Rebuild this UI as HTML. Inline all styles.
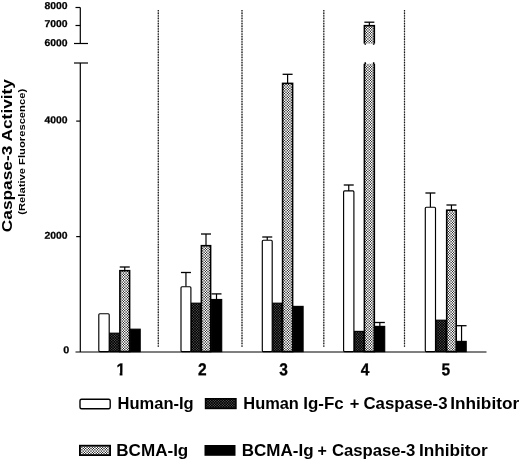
<!DOCTYPE html>
<html><head><meta charset="utf-8"><style>
html,body{margin:0;padding:0;background:#fff}
svg{display:block}
text{font-family:"Liberation Sans",sans-serif;fill:#000}
</style></head><body>
<svg width="520" height="461" viewBox="0 0 520 461">
<defs>
<pattern id="pg" width="13" height="13" patternUnits="userSpaceOnUse" shape-rendering="crispEdges"><rect x="0" y="0" width="1.02" height="1.02" fill="#bcbcbc"/><rect x="1" y="0" width="1.02" height="1.02" fill="#7a7a7a"/><rect x="2" y="0" width="1.02" height="1.02" fill="#dddddd"/><rect x="3" y="0" width="1.02" height="1.02" fill="#8b8b8b"/><rect x="4" y="0" width="1.02" height="1.02" fill="#a3a3a3"/><rect x="5" y="0" width="1.02" height="1.02" fill="#d1d1d1"/><rect x="6" y="0" width="1.02" height="1.02" fill="#747474"/><rect x="7" y="0" width="1.02" height="1.02" fill="#d1d1d1"/><rect x="8" y="0" width="1.02" height="1.02" fill="#a3a3a3"/><rect x="9" y="0" width="1.02" height="1.02" fill="#8b8b8b"/><rect x="10" y="0" width="1.02" height="1.02" fill="#dddddd"/><rect x="11" y="0" width="1.02" height="1.02" fill="#7a7a7a"/><rect x="12" y="0" width="1.02" height="1.02" fill="#bcbcbc"/><rect x="0" y="1" width="1.02" height="1.02" fill="#7a7a7a"/><rect x="1" y="1" width="1.02" height="1.02" fill="#ffffff"/><rect x="2" y="1" width="1.02" height="1.02" fill="#292929"/><rect x="3" y="1" width="1.02" height="1.02" fill="#f5f5f5"/><rect x="4" y="1" width="1.02" height="1.02" fill="#bababa"/><rect x="5" y="1" width="1.02" height="1.02" fill="#464646"/><rect x="6" y="1" width="1.02" height="1.02" fill="#ffffff"/><rect x="7" y="1" width="1.02" height="1.02" fill="#464646"/><rect x="8" y="1" width="1.02" height="1.02" fill="#bababa"/><rect x="9" y="1" width="1.02" height="1.02" fill="#f5f5f5"/><rect x="10" y="1" width="1.02" height="1.02" fill="#292929"/><rect x="11" y="1" width="1.02" height="1.02" fill="#ffffff"/><rect x="12" y="1" width="1.02" height="1.02" fill="#7a7a7a"/><rect x="0" y="2" width="1.02" height="1.02" fill="#dddddd"/><rect x="1" y="2" width="1.02" height="1.02" fill="#292929"/><rect x="2" y="2" width="1.02" height="1.02" fill="#ffffff"/><rect x="3" y="2" width="1.02" height="1.02" fill="#575757"/><rect x="4" y="2" width="1.02" height="1.02" fill="#989898"/><rect x="5" y="2" width="1.02" height="1.02" fill="#ffffff"/><rect x="6" y="2" width="1.02" height="1.02" fill="#181818"/><rect x="7" y="2" width="1.02" height="1.02" fill="#ffffff"/><rect x="8" y="2" width="1.02" height="1.02" fill="#989898"/><rect x="9" y="2" width="1.02" height="1.02" fill="#575757"/><rect x="10" y="2" width="1.02" height="1.02" fill="#ffffff"/><rect x="11" y="2" width="1.02" height="1.02" fill="#292929"/><rect x="12" y="2" width="1.02" height="1.02" fill="#dddddd"/><rect x="0" y="3" width="1.02" height="1.02" fill="#8b8b8b"/><rect x="1" y="3" width="1.02" height="1.02" fill="#f5f5f5"/><rect x="2" y="3" width="1.02" height="1.02" fill="#575757"/><rect x="3" y="3" width="1.02" height="1.02" fill="#dadada"/><rect x="4" y="3" width="1.02" height="1.02" fill="#b4b4b4"/><rect x="5" y="3" width="1.02" height="1.02" fill="#6a6a6a"/><rect x="6" y="3" width="1.02" height="1.02" fill="#ffffff"/><rect x="7" y="3" width="1.02" height="1.02" fill="#6a6a6a"/><rect x="8" y="3" width="1.02" height="1.02" fill="#b4b4b4"/><rect x="9" y="3" width="1.02" height="1.02" fill="#dadada"/><rect x="10" y="3" width="1.02" height="1.02" fill="#575757"/><rect x="11" y="3" width="1.02" height="1.02" fill="#f5f5f5"/><rect x="12" y="3" width="1.02" height="1.02" fill="#8b8b8b"/><rect x="0" y="4" width="1.02" height="1.02" fill="#a3a3a3"/><rect x="1" y="4" width="1.02" height="1.02" fill="#bababa"/><rect x="2" y="4" width="1.02" height="1.02" fill="#989898"/><rect x="3" y="4" width="1.02" height="1.02" fill="#b4b4b4"/><rect x="4" y="4" width="1.02" height="1.02" fill="#acacac"/><rect x="5" y="4" width="1.02" height="1.02" fill="#9c9c9c"/><rect x="6" y="4" width="1.02" height="1.02" fill="#bcbcbc"/><rect x="7" y="4" width="1.02" height="1.02" fill="#9c9c9c"/><rect x="8" y="4" width="1.02" height="1.02" fill="#acacac"/><rect x="9" y="4" width="1.02" height="1.02" fill="#b4b4b4"/><rect x="10" y="4" width="1.02" height="1.02" fill="#989898"/><rect x="11" y="4" width="1.02" height="1.02" fill="#bababa"/><rect x="12" y="4" width="1.02" height="1.02" fill="#a3a3a3"/><rect x="0" y="5" width="1.02" height="1.02" fill="#d1d1d1"/><rect x="1" y="5" width="1.02" height="1.02" fill="#464646"/><rect x="2" y="5" width="1.02" height="1.02" fill="#ffffff"/><rect x="3" y="5" width="1.02" height="1.02" fill="#6a6a6a"/><rect x="4" y="5" width="1.02" height="1.02" fill="#9c9c9c"/><rect x="5" y="5" width="1.02" height="1.02" fill="#fefefe"/><rect x="6" y="5" width="1.02" height="1.02" fill="#393939"/><rect x="7" y="5" width="1.02" height="1.02" fill="#fefefe"/><rect x="8" y="5" width="1.02" height="1.02" fill="#9c9c9c"/><rect x="9" y="5" width="1.02" height="1.02" fill="#6a6a6a"/><rect x="10" y="5" width="1.02" height="1.02" fill="#ffffff"/><rect x="11" y="5" width="1.02" height="1.02" fill="#464646"/><rect x="12" y="5" width="1.02" height="1.02" fill="#d1d1d1"/><rect x="0" y="6" width="1.02" height="1.02" fill="#747474"/><rect x="1" y="6" width="1.02" height="1.02" fill="#ffffff"/><rect x="2" y="6" width="1.02" height="1.02" fill="#181818"/><rect x="3" y="6" width="1.02" height="1.02" fill="#ffffff"/><rect x="4" y="6" width="1.02" height="1.02" fill="#bcbcbc"/><rect x="5" y="6" width="1.02" height="1.02" fill="#393939"/><rect x="6" y="6" width="1.02" height="1.02" fill="#ffffff"/><rect x="7" y="6" width="1.02" height="1.02" fill="#393939"/><rect x="8" y="6" width="1.02" height="1.02" fill="#bcbcbc"/><rect x="9" y="6" width="1.02" height="1.02" fill="#ffffff"/><rect x="10" y="6" width="1.02" height="1.02" fill="#181818"/><rect x="11" y="6" width="1.02" height="1.02" fill="#ffffff"/><rect x="12" y="6" width="1.02" height="1.02" fill="#747474"/><rect x="0" y="7" width="1.02" height="1.02" fill="#d1d1d1"/><rect x="1" y="7" width="1.02" height="1.02" fill="#464646"/><rect x="2" y="7" width="1.02" height="1.02" fill="#ffffff"/><rect x="3" y="7" width="1.02" height="1.02" fill="#6a6a6a"/><rect x="4" y="7" width="1.02" height="1.02" fill="#9c9c9c"/><rect x="5" y="7" width="1.02" height="1.02" fill="#fefefe"/><rect x="6" y="7" width="1.02" height="1.02" fill="#393939"/><rect x="7" y="7" width="1.02" height="1.02" fill="#fefefe"/><rect x="8" y="7" width="1.02" height="1.02" fill="#9c9c9c"/><rect x="9" y="7" width="1.02" height="1.02" fill="#6a6a6a"/><rect x="10" y="7" width="1.02" height="1.02" fill="#ffffff"/><rect x="11" y="7" width="1.02" height="1.02" fill="#464646"/><rect x="12" y="7" width="1.02" height="1.02" fill="#d1d1d1"/><rect x="0" y="8" width="1.02" height="1.02" fill="#a3a3a3"/><rect x="1" y="8" width="1.02" height="1.02" fill="#bababa"/><rect x="2" y="8" width="1.02" height="1.02" fill="#989898"/><rect x="3" y="8" width="1.02" height="1.02" fill="#b4b4b4"/><rect x="4" y="8" width="1.02" height="1.02" fill="#acacac"/><rect x="5" y="8" width="1.02" height="1.02" fill="#9c9c9c"/><rect x="6" y="8" width="1.02" height="1.02" fill="#bcbcbc"/><rect x="7" y="8" width="1.02" height="1.02" fill="#9c9c9c"/><rect x="8" y="8" width="1.02" height="1.02" fill="#acacac"/><rect x="9" y="8" width="1.02" height="1.02" fill="#b4b4b4"/><rect x="10" y="8" width="1.02" height="1.02" fill="#989898"/><rect x="11" y="8" width="1.02" height="1.02" fill="#bababa"/><rect x="12" y="8" width="1.02" height="1.02" fill="#a3a3a3"/><rect x="0" y="9" width="1.02" height="1.02" fill="#8b8b8b"/><rect x="1" y="9" width="1.02" height="1.02" fill="#f5f5f5"/><rect x="2" y="9" width="1.02" height="1.02" fill="#575757"/><rect x="3" y="9" width="1.02" height="1.02" fill="#dadada"/><rect x="4" y="9" width="1.02" height="1.02" fill="#b4b4b4"/><rect x="5" y="9" width="1.02" height="1.02" fill="#6a6a6a"/><rect x="6" y="9" width="1.02" height="1.02" fill="#ffffff"/><rect x="7" y="9" width="1.02" height="1.02" fill="#6a6a6a"/><rect x="8" y="9" width="1.02" height="1.02" fill="#b4b4b4"/><rect x="9" y="9" width="1.02" height="1.02" fill="#dadada"/><rect x="10" y="9" width="1.02" height="1.02" fill="#575757"/><rect x="11" y="9" width="1.02" height="1.02" fill="#f5f5f5"/><rect x="12" y="9" width="1.02" height="1.02" fill="#8b8b8b"/><rect x="0" y="10" width="1.02" height="1.02" fill="#dddddd"/><rect x="1" y="10" width="1.02" height="1.02" fill="#292929"/><rect x="2" y="10" width="1.02" height="1.02" fill="#ffffff"/><rect x="3" y="10" width="1.02" height="1.02" fill="#575757"/><rect x="4" y="10" width="1.02" height="1.02" fill="#989898"/><rect x="5" y="10" width="1.02" height="1.02" fill="#ffffff"/><rect x="6" y="10" width="1.02" height="1.02" fill="#181818"/><rect x="7" y="10" width="1.02" height="1.02" fill="#ffffff"/><rect x="8" y="10" width="1.02" height="1.02" fill="#989898"/><rect x="9" y="10" width="1.02" height="1.02" fill="#575757"/><rect x="10" y="10" width="1.02" height="1.02" fill="#ffffff"/><rect x="11" y="10" width="1.02" height="1.02" fill="#292929"/><rect x="12" y="10" width="1.02" height="1.02" fill="#dddddd"/><rect x="0" y="11" width="1.02" height="1.02" fill="#7a7a7a"/><rect x="1" y="11" width="1.02" height="1.02" fill="#ffffff"/><rect x="2" y="11" width="1.02" height="1.02" fill="#292929"/><rect x="3" y="11" width="1.02" height="1.02" fill="#f5f5f5"/><rect x="4" y="11" width="1.02" height="1.02" fill="#bababa"/><rect x="5" y="11" width="1.02" height="1.02" fill="#464646"/><rect x="6" y="11" width="1.02" height="1.02" fill="#ffffff"/><rect x="7" y="11" width="1.02" height="1.02" fill="#464646"/><rect x="8" y="11" width="1.02" height="1.02" fill="#bababa"/><rect x="9" y="11" width="1.02" height="1.02" fill="#f5f5f5"/><rect x="10" y="11" width="1.02" height="1.02" fill="#292929"/><rect x="11" y="11" width="1.02" height="1.02" fill="#ffffff"/><rect x="12" y="11" width="1.02" height="1.02" fill="#7a7a7a"/><rect x="0" y="12" width="1.02" height="1.02" fill="#bcbcbc"/><rect x="1" y="12" width="1.02" height="1.02" fill="#7a7a7a"/><rect x="2" y="12" width="1.02" height="1.02" fill="#dddddd"/><rect x="3" y="12" width="1.02" height="1.02" fill="#8b8b8b"/><rect x="4" y="12" width="1.02" height="1.02" fill="#a3a3a3"/><rect x="5" y="12" width="1.02" height="1.02" fill="#d1d1d1"/><rect x="6" y="12" width="1.02" height="1.02" fill="#747474"/><rect x="7" y="12" width="1.02" height="1.02" fill="#d1d1d1"/><rect x="8" y="12" width="1.02" height="1.02" fill="#a3a3a3"/><rect x="9" y="12" width="1.02" height="1.02" fill="#8b8b8b"/><rect x="10" y="12" width="1.02" height="1.02" fill="#dddddd"/><rect x="11" y="12" width="1.02" height="1.02" fill="#7a7a7a"/><rect x="12" y="12" width="1.02" height="1.02" fill="#bcbcbc"/></pattern>
<pattern id="pd" width="13" height="13" patternUnits="userSpaceOnUse" shape-rendering="crispEdges"><rect x="0" y="0" width="1.02" height="1.02" fill="#222222"/><rect x="1" y="0" width="1.02" height="1.02" fill="#0a0a0a"/><rect x="2" y="0" width="1.02" height="1.02" fill="#2e2e2e"/><rect x="3" y="0" width="1.02" height="1.02" fill="#101010"/><rect x="4" y="0" width="1.02" height="1.02" fill="#191919"/><rect x="5" y="0" width="1.02" height="1.02" fill="#2a2a2a"/><rect x="6" y="0" width="1.02" height="1.02" fill="#080808"/><rect x="7" y="0" width="1.02" height="1.02" fill="#2a2a2a"/><rect x="8" y="0" width="1.02" height="1.02" fill="#191919"/><rect x="9" y="0" width="1.02" height="1.02" fill="#101010"/><rect x="10" y="0" width="1.02" height="1.02" fill="#2e2e2e"/><rect x="11" y="0" width="1.02" height="1.02" fill="#0a0a0a"/><rect x="12" y="0" width="1.02" height="1.02" fill="#222222"/><rect x="0" y="1" width="1.02" height="1.02" fill="#0a0a0a"/><rect x="1" y="1" width="1.02" height="1.02" fill="#474747"/><rect x="2" y="1" width="1.02" height="1.02" fill="#000000"/><rect x="3" y="1" width="1.02" height="1.02" fill="#373737"/><rect x="4" y="1" width="1.02" height="1.02" fill="#212121"/><rect x="5" y="1" width="1.02" height="1.02" fill="#000000"/><rect x="6" y="1" width="1.02" height="1.02" fill="#4c4c4c"/><rect x="7" y="1" width="1.02" height="1.02" fill="#000000"/><rect x="8" y="1" width="1.02" height="1.02" fill="#212121"/><rect x="9" y="1" width="1.02" height="1.02" fill="#373737"/><rect x="10" y="1" width="1.02" height="1.02" fill="#000000"/><rect x="11" y="1" width="1.02" height="1.02" fill="#474747"/><rect x="12" y="1" width="1.02" height="1.02" fill="#0a0a0a"/><rect x="0" y="2" width="1.02" height="1.02" fill="#2e2e2e"/><rect x="1" y="2" width="1.02" height="1.02" fill="#000000"/><rect x="2" y="2" width="1.02" height="1.02" fill="#4f4f4f"/><rect x="3" y="2" width="1.02" height="1.02" fill="#000000"/><rect x="4" y="2" width="1.02" height="1.02" fill="#151515"/><rect x="5" y="2" width="1.02" height="1.02" fill="#434343"/><rect x="6" y="2" width="1.02" height="1.02" fill="#000000"/><rect x="7" y="2" width="1.02" height="1.02" fill="#434343"/><rect x="8" y="2" width="1.02" height="1.02" fill="#151515"/><rect x="9" y="2" width="1.02" height="1.02" fill="#000000"/><rect x="10" y="2" width="1.02" height="1.02" fill="#4f4f4f"/><rect x="11" y="2" width="1.02" height="1.02" fill="#000000"/><rect x="12" y="2" width="1.02" height="1.02" fill="#2e2e2e"/><rect x="0" y="3" width="1.02" height="1.02" fill="#101010"/><rect x="1" y="3" width="1.02" height="1.02" fill="#373737"/><rect x="2" y="3" width="1.02" height="1.02" fill="#000000"/><rect x="3" y="3" width="1.02" height="1.02" fill="#2d2d2d"/><rect x="4" y="3" width="1.02" height="1.02" fill="#1f1f1f"/><rect x="5" y="3" width="1.02" height="1.02" fill="#040404"/><rect x="6" y="3" width="1.02" height="1.02" fill="#3b3b3b"/><rect x="7" y="3" width="1.02" height="1.02" fill="#040404"/><rect x="8" y="3" width="1.02" height="1.02" fill="#1f1f1f"/><rect x="9" y="3" width="1.02" height="1.02" fill="#2d2d2d"/><rect x="10" y="3" width="1.02" height="1.02" fill="#000000"/><rect x="11" y="3" width="1.02" height="1.02" fill="#373737"/><rect x="12" y="3" width="1.02" height="1.02" fill="#101010"/><rect x="0" y="4" width="1.02" height="1.02" fill="#191919"/><rect x="1" y="4" width="1.02" height="1.02" fill="#212121"/><rect x="2" y="4" width="1.02" height="1.02" fill="#151515"/><rect x="3" y="4" width="1.02" height="1.02" fill="#1f1f1f"/><rect x="4" y="4" width="1.02" height="1.02" fill="#1c1c1c"/><rect x="5" y="4" width="1.02" height="1.02" fill="#171717"/><rect x="6" y="4" width="1.02" height="1.02" fill="#222222"/><rect x="7" y="4" width="1.02" height="1.02" fill="#171717"/><rect x="8" y="4" width="1.02" height="1.02" fill="#1c1c1c"/><rect x="9" y="4" width="1.02" height="1.02" fill="#1f1f1f"/><rect x="10" y="4" width="1.02" height="1.02" fill="#151515"/><rect x="11" y="4" width="1.02" height="1.02" fill="#212121"/><rect x="12" y="4" width="1.02" height="1.02" fill="#191919"/><rect x="0" y="5" width="1.02" height="1.02" fill="#2a2a2a"/><rect x="1" y="5" width="1.02" height="1.02" fill="#000000"/><rect x="2" y="5" width="1.02" height="1.02" fill="#434343"/><rect x="3" y="5" width="1.02" height="1.02" fill="#040404"/><rect x="4" y="5" width="1.02" height="1.02" fill="#171717"/><rect x="5" y="5" width="1.02" height="1.02" fill="#3a3a3a"/><rect x="6" y="5" width="1.02" height="1.02" fill="#000000"/><rect x="7" y="5" width="1.02" height="1.02" fill="#3a3a3a"/><rect x="8" y="5" width="1.02" height="1.02" fill="#171717"/><rect x="9" y="5" width="1.02" height="1.02" fill="#040404"/><rect x="10" y="5" width="1.02" height="1.02" fill="#434343"/><rect x="11" y="5" width="1.02" height="1.02" fill="#000000"/><rect x="12" y="5" width="1.02" height="1.02" fill="#2a2a2a"/><rect x="0" y="6" width="1.02" height="1.02" fill="#080808"/><rect x="1" y="6" width="1.02" height="1.02" fill="#4c4c4c"/><rect x="2" y="6" width="1.02" height="1.02" fill="#000000"/><rect x="3" y="6" width="1.02" height="1.02" fill="#3b3b3b"/><rect x="4" y="6" width="1.02" height="1.02" fill="#222222"/><rect x="5" y="6" width="1.02" height="1.02" fill="#000000"/><rect x="6" y="6" width="1.02" height="1.02" fill="#535353"/><rect x="7" y="6" width="1.02" height="1.02" fill="#000000"/><rect x="8" y="6" width="1.02" height="1.02" fill="#222222"/><rect x="9" y="6" width="1.02" height="1.02" fill="#3b3b3b"/><rect x="10" y="6" width="1.02" height="1.02" fill="#000000"/><rect x="11" y="6" width="1.02" height="1.02" fill="#4c4c4c"/><rect x="12" y="6" width="1.02" height="1.02" fill="#080808"/><rect x="0" y="7" width="1.02" height="1.02" fill="#2a2a2a"/><rect x="1" y="7" width="1.02" height="1.02" fill="#000000"/><rect x="2" y="7" width="1.02" height="1.02" fill="#434343"/><rect x="3" y="7" width="1.02" height="1.02" fill="#040404"/><rect x="4" y="7" width="1.02" height="1.02" fill="#171717"/><rect x="5" y="7" width="1.02" height="1.02" fill="#3a3a3a"/><rect x="6" y="7" width="1.02" height="1.02" fill="#000000"/><rect x="7" y="7" width="1.02" height="1.02" fill="#3a3a3a"/><rect x="8" y="7" width="1.02" height="1.02" fill="#171717"/><rect x="9" y="7" width="1.02" height="1.02" fill="#040404"/><rect x="10" y="7" width="1.02" height="1.02" fill="#434343"/><rect x="11" y="7" width="1.02" height="1.02" fill="#000000"/><rect x="12" y="7" width="1.02" height="1.02" fill="#2a2a2a"/><rect x="0" y="8" width="1.02" height="1.02" fill="#191919"/><rect x="1" y="8" width="1.02" height="1.02" fill="#212121"/><rect x="2" y="8" width="1.02" height="1.02" fill="#151515"/><rect x="3" y="8" width="1.02" height="1.02" fill="#1f1f1f"/><rect x="4" y="8" width="1.02" height="1.02" fill="#1c1c1c"/><rect x="5" y="8" width="1.02" height="1.02" fill="#171717"/><rect x="6" y="8" width="1.02" height="1.02" fill="#222222"/><rect x="7" y="8" width="1.02" height="1.02" fill="#171717"/><rect x="8" y="8" width="1.02" height="1.02" fill="#1c1c1c"/><rect x="9" y="8" width="1.02" height="1.02" fill="#1f1f1f"/><rect x="10" y="8" width="1.02" height="1.02" fill="#151515"/><rect x="11" y="8" width="1.02" height="1.02" fill="#212121"/><rect x="12" y="8" width="1.02" height="1.02" fill="#191919"/><rect x="0" y="9" width="1.02" height="1.02" fill="#101010"/><rect x="1" y="9" width="1.02" height="1.02" fill="#373737"/><rect x="2" y="9" width="1.02" height="1.02" fill="#000000"/><rect x="3" y="9" width="1.02" height="1.02" fill="#2d2d2d"/><rect x="4" y="9" width="1.02" height="1.02" fill="#1f1f1f"/><rect x="5" y="9" width="1.02" height="1.02" fill="#040404"/><rect x="6" y="9" width="1.02" height="1.02" fill="#3b3b3b"/><rect x="7" y="9" width="1.02" height="1.02" fill="#040404"/><rect x="8" y="9" width="1.02" height="1.02" fill="#1f1f1f"/><rect x="9" y="9" width="1.02" height="1.02" fill="#2d2d2d"/><rect x="10" y="9" width="1.02" height="1.02" fill="#000000"/><rect x="11" y="9" width="1.02" height="1.02" fill="#373737"/><rect x="12" y="9" width="1.02" height="1.02" fill="#101010"/><rect x="0" y="10" width="1.02" height="1.02" fill="#2e2e2e"/><rect x="1" y="10" width="1.02" height="1.02" fill="#000000"/><rect x="2" y="10" width="1.02" height="1.02" fill="#4f4f4f"/><rect x="3" y="10" width="1.02" height="1.02" fill="#000000"/><rect x="4" y="10" width="1.02" height="1.02" fill="#151515"/><rect x="5" y="10" width="1.02" height="1.02" fill="#434343"/><rect x="6" y="10" width="1.02" height="1.02" fill="#000000"/><rect x="7" y="10" width="1.02" height="1.02" fill="#434343"/><rect x="8" y="10" width="1.02" height="1.02" fill="#151515"/><rect x="9" y="10" width="1.02" height="1.02" fill="#000000"/><rect x="10" y="10" width="1.02" height="1.02" fill="#4f4f4f"/><rect x="11" y="10" width="1.02" height="1.02" fill="#000000"/><rect x="12" y="10" width="1.02" height="1.02" fill="#2e2e2e"/><rect x="0" y="11" width="1.02" height="1.02" fill="#0a0a0a"/><rect x="1" y="11" width="1.02" height="1.02" fill="#474747"/><rect x="2" y="11" width="1.02" height="1.02" fill="#000000"/><rect x="3" y="11" width="1.02" height="1.02" fill="#373737"/><rect x="4" y="11" width="1.02" height="1.02" fill="#212121"/><rect x="5" y="11" width="1.02" height="1.02" fill="#000000"/><rect x="6" y="11" width="1.02" height="1.02" fill="#4c4c4c"/><rect x="7" y="11" width="1.02" height="1.02" fill="#000000"/><rect x="8" y="11" width="1.02" height="1.02" fill="#212121"/><rect x="9" y="11" width="1.02" height="1.02" fill="#373737"/><rect x="10" y="11" width="1.02" height="1.02" fill="#000000"/><rect x="11" y="11" width="1.02" height="1.02" fill="#474747"/><rect x="12" y="11" width="1.02" height="1.02" fill="#0a0a0a"/><rect x="0" y="12" width="1.02" height="1.02" fill="#222222"/><rect x="1" y="12" width="1.02" height="1.02" fill="#0a0a0a"/><rect x="2" y="12" width="1.02" height="1.02" fill="#2e2e2e"/><rect x="3" y="12" width="1.02" height="1.02" fill="#101010"/><rect x="4" y="12" width="1.02" height="1.02" fill="#191919"/><rect x="5" y="12" width="1.02" height="1.02" fill="#2a2a2a"/><rect x="6" y="12" width="1.02" height="1.02" fill="#080808"/><rect x="7" y="12" width="1.02" height="1.02" fill="#2a2a2a"/><rect x="8" y="12" width="1.02" height="1.02" fill="#191919"/><rect x="9" y="12" width="1.02" height="1.02" fill="#101010"/><rect x="10" y="12" width="1.02" height="1.02" fill="#2e2e2e"/><rect x="11" y="12" width="1.02" height="1.02" fill="#0a0a0a"/><rect x="12" y="12" width="1.02" height="1.02" fill="#222222"/></pattern>
<clipPath id="c1" clipPathUnits="userSpaceOnUse"><path d="M-10 -20H10V-2.6H1.95V2H-1.15V-2.6H-10Z"/></clipPath>
</defs>
<rect width="520" height="461" fill="#fff"/>
<g stroke="#a8a8a8" stroke-width="1.1"><line x1="158.3" y1="10" x2="158.3" y2="347"/><line x1="242" y1="10" x2="242" y2="347"/><line x1="323.8" y1="10" x2="323.8" y2="347"/><line x1="404.5" y1="10" x2="404.5" y2="347"/></g>
<g stroke="#1a1a1a" stroke-width="1.2" stroke-dasharray="1.3 1.3"><line x1="158.3" y1="10" x2="158.3" y2="347"/><line x1="242" y1="10" x2="242" y2="347"/><line x1="323.8" y1="10" x2="323.8" y2="347"/><line x1="404.5" y1="10" x2="404.5" y2="347"/></g>
<rect x="98.8" y="313.7" width="10.400000000000006" height="37.900000000000034" fill="#fff" stroke="#000" stroke-width="1.15" rx="1"/><rect x="109.8" y="333.2" width="9.400000000000006" height="18.400000000000034" fill="url(#pd)" stroke="#000" stroke-width="1.15"/><line x1="124.75" y1="267" x2="124.75" y2="270.7" stroke="#000" stroke-width="1.2"/><line x1="119.75" y1="267" x2="129.75" y2="267" stroke="#000" stroke-width="1.3"/><rect x="119.89999999999999" y="270.7" width="9.700000000000003" height="80.90000000000003" fill="url(#pg)" stroke="#000" stroke-width="1.6"/><rect x="130.3" y="329.2" width="9.899999999999977" height="22.400000000000034" fill="#000" stroke="#000" stroke-width="1.15"/><line x1="185.95" y1="272.5" x2="185.95" y2="286.7" stroke="#000" stroke-width="1.2"/><line x1="180.95" y1="272.5" x2="190.95" y2="272.5" stroke="#000" stroke-width="1.3"/><rect x="181.0" y="286.7" width="9.899999999999977" height="64.90000000000003" fill="#fff" stroke="#000" stroke-width="1.15" rx="1"/><rect x="191.5" y="303.2" width="9.199999999999989" height="48.400000000000034" fill="url(#pd)" stroke="#000" stroke-width="1.15"/><line x1="206.0" y1="234" x2="206.0" y2="245.7" stroke="#000" stroke-width="1.2"/><line x1="201.0" y1="234" x2="211.0" y2="234" stroke="#000" stroke-width="1.3"/><rect x="201.4" y="245.7" width="9.199999999999989" height="105.90000000000003" fill="url(#pg)" stroke="#000" stroke-width="1.6"/><line x1="216.5" y1="293.9" x2="216.5" y2="299.5" stroke="#000" stroke-width="1.2"/><line x1="211.5" y1="293.9" x2="221.5" y2="293.9" stroke="#000" stroke-width="1.3"/><rect x="211.3" y="299.5" width="10.399999999999977" height="52.10000000000002" fill="#000" stroke="#000" stroke-width="1.15"/><line x1="267.25" y1="237" x2="267.25" y2="240.2" stroke="#000" stroke-width="1.2"/><line x1="262.25" y1="237" x2="272.25" y2="237" stroke="#000" stroke-width="1.3"/><rect x="262.3" y="240.2" width="9.899999999999977" height="111.40000000000003" fill="#fff" stroke="#000" stroke-width="1.15" rx="1"/><rect x="272.8" y="303.2" width="8.899999999999977" height="48.400000000000034" fill="url(#pd)" stroke="#000" stroke-width="1.15"/><line x1="287.6" y1="74.3" x2="287.6" y2="83.4" stroke="#000" stroke-width="1.2"/><line x1="282.6" y1="74.3" x2="292.6" y2="74.3" stroke="#000" stroke-width="1.3"/><rect x="282.6" y="83.4" width="9.999999999999943" height="268.20000000000005" fill="url(#pg)" stroke="#000" stroke-width="1.6"/><rect x="293.3" y="306.4" width="9.799999999999955" height="45.200000000000045" fill="#000" stroke="#000" stroke-width="1.15"/><line x1="348.75" y1="185" x2="348.75" y2="190.89999999999998" stroke="#000" stroke-width="1.2"/><line x1="343.75" y1="185" x2="353.75" y2="185" stroke="#000" stroke-width="1.3"/><rect x="343.6" y="190.89999999999998" width="10.299999999999955" height="160.70000000000005" fill="#fff" stroke="#000" stroke-width="1.15" rx="1"/><rect x="354.5" y="331.4" width="9.199999999999989" height="20.200000000000045" fill="url(#pd)" stroke="#000" stroke-width="1.15"/><line x1="369.35" y1="22.2" x2="369.35" y2="25.7" stroke="#000" stroke-width="1.2"/><line x1="364.35" y1="22.2" x2="374.35" y2="22.2" stroke="#000" stroke-width="1.3"/><rect x="364.40000000000003" y="25.7" width="9.89999999999992" height="325.90000000000003" fill="url(#pg)" stroke="#000" stroke-width="1.6"/><line x1="379.85" y1="322.5" x2="379.85" y2="326.4" stroke="#000" stroke-width="1.2"/><line x1="374.85" y1="322.5" x2="384.85" y2="322.5" stroke="#000" stroke-width="1.3"/><rect x="375.0" y="326.4" width="9.699999999999989" height="25.200000000000045" fill="#000" stroke="#000" stroke-width="1.15"/><line x1="430.4" y1="193" x2="430.4" y2="207.2" stroke="#000" stroke-width="1.2"/><line x1="425.4" y1="193" x2="435.4" y2="193" stroke="#000" stroke-width="1.3"/><rect x="425.3" y="207.2" width="10.199999999999989" height="144.40000000000003" fill="#fff" stroke="#000" stroke-width="1.15" rx="1"/><rect x="436.1" y="320.2" width="9.899999999999977" height="31.400000000000034" fill="url(#pd)" stroke="#000" stroke-width="1.15"/><line x1="451.45000000000005" y1="205" x2="451.45000000000005" y2="210.2" stroke="#000" stroke-width="1.2"/><line x1="446.45000000000005" y1="205" x2="456.45000000000005" y2="205" stroke="#000" stroke-width="1.3"/><rect x="446.70000000000005" y="210.2" width="9.499999999999943" height="141.40000000000003" fill="url(#pg)" stroke="#000" stroke-width="1.6"/><line x1="461.55" y1="325.7" x2="461.55" y2="341.4" stroke="#000" stroke-width="1.2"/><line x1="456.55" y1="325.7" x2="466.55" y2="325.7" stroke="#000" stroke-width="1.3"/><rect x="456.90000000000003" y="341.4" width="9.299999999999955" height="10.200000000000045" fill="#000" stroke="#000" stroke-width="1.15"/>
<rect x="360" y="43.6" width="20" height="20.2" fill="#fff"/><path d="M365.25 43.4V44.8M373.65 43.4V44.8M365.25 62.2V64M373.65 62.2V64" stroke="#000" stroke-width="1.5" fill="none"/>
<g stroke="#000" stroke-width="1.2" fill="none">
<line x1="80.3" y1="7.5" x2="80.3" y2="43.5"/>
<line x1="75.5" y1="7.5" x2="80.3" y2="7.5"/>
<line x1="75.5" y1="25.5" x2="80.3" y2="25.5"/>
<line x1="74" y1="43.5" x2="88" y2="43.5"/>
<line x1="74" y1="63" x2="88" y2="63"/>
<line x1="80.3" y1="63" x2="80.3" y2="352"/>
<line x1="76.2" y1="121.1" x2="80.3" y2="121.1"/>
<line x1="76.2" y1="236.6" x2="80.3" y2="236.6"/>
<line x1="75.5" y1="352" x2="486.5" y2="352"/>
</g>
<g font-size="10" text-anchor="end" font-weight="bold" stroke="#000" stroke-width="0.25">
<text transform="translate(67.6,9.0) rotate(0.3) scale(1.08,1.0)" textLength="21.4" lengthAdjust="spacingAndGlyphs">8000</text>
<text transform="translate(67.6,27.1) rotate(0.3) scale(1.08,1.0)" textLength="21.4" lengthAdjust="spacingAndGlyphs">7000</text>
<text transform="translate(67.6,46.2) rotate(0.3) scale(1.08,1.0)" textLength="21.4" lengthAdjust="spacingAndGlyphs">6000</text>
<text transform="translate(67.6,123.3) rotate(0.3) scale(1.08,1.0)" textLength="21.4" lengthAdjust="spacingAndGlyphs">4000</text>
<text transform="translate(67.6,238.8) rotate(0.3) scale(1.08,1.0)" textLength="21.4" lengthAdjust="spacingAndGlyphs">2000</text>
<text transform="translate(69.3,353.3) rotate(0.3) scale(1.08,1.0)">0</text>
</g>
<g font-size="17.2" font-weight="bold" text-anchor="middle" stroke="#000" stroke-width="0.3">
<text transform="translate(120.7,375.3) rotate(0.3) scale(0.9,1)" clip-path="url(#c1)">1</text>
<text transform="translate(202.2,375.3) rotate(0.3) scale(0.9,1)">2</text>
<text transform="translate(283.5,375.3) rotate(0.3) scale(0.9,1)">3</text>
<text transform="translate(365,375.3) rotate(0.3) scale(0.9,1)">4</text>
<text transform="translate(445.9,375.3) rotate(0.3) scale(0.9,1)">5</text>
</g>
<text transform="translate(11.9,232.2) rotate(-90)" font-size="14.8" font-weight="bold" textLength="153.2" lengthAdjust="spacingAndGlyphs">Caspase-3 Activity</text>
<text transform="translate(25.4,214.8) rotate(-90)" font-size="8.8" font-weight="bold" textLength="126" lengthAdjust="spacingAndGlyphs">(Relative Fluorescence)</text>
<rect x="80" y="399.3" width="30.2" height="9.5" rx="1.5" fill="#fff" stroke="#000" stroke-width="1.4"/>
<rect x="205.6" y="398.8" width="30.3" height="9.6" fill="url(#pd)" stroke="#000" stroke-width="1.6"/>
<rect x="79.9" y="445.7" width="30.2" height="9.4" fill="url(#pg)" stroke="#000" stroke-width="1.8"/>
<rect x="204.5" y="445" width="31" height="10.8" fill="#000"/>
<g font-size="16.4" font-weight="bold">
<text x="117.6" y="408.8" textLength="76" lengthAdjust="spacingAndGlyphs">Human-Ig</text>
<text x="243.3" y="408.8">Human</text><text x="303.3" y="408.8" textLength="40.4" lengthAdjust="spacingAndGlyphs">Ig-Fc</text><text x="349.8" y="408.8">+</text><text x="363.5" y="408.8" textLength="84" lengthAdjust="spacingAndGlyphs">Caspase-3</text><text x="450.3" y="408.8" textLength="68.8" lengthAdjust="spacingAndGlyphs">Inhibitor</text>
<text x="116.3" y="456.1" textLength="72" lengthAdjust="spacingAndGlyphs" font-size="15.8">BCMA-Ig</text>
<text x="241.8" y="455.5" font-size="16" textLength="71.8" lengthAdjust="spacingAndGlyphs">BCMA-Ig</text><text x="317.4" y="455.5" font-size="16">+</text><text x="331.9" y="455.5" font-size="16" textLength="83.5" lengthAdjust="spacingAndGlyphs">Caspase-3</text><text x="419" y="455.5" font-size="16" textLength="68.8" lengthAdjust="spacingAndGlyphs">Inhibitor</text>
</g>
</svg>
</body></html>
